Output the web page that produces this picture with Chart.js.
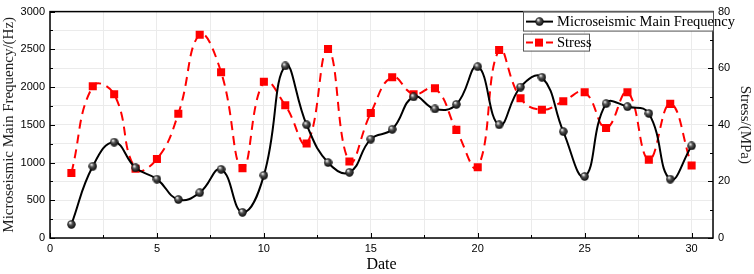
<!DOCTYPE html>
<html>
<head>
<meta charset="utf-8">
<script src="https://cdn.jsdelivr.net/npm/chart.js@4.4.0/dist/chart.umd.min.js"></script>
<style>
  html, body { margin: 0; padding: 0; background: #fff; }
  #wrap { width: 754px; height: 274px; }
</style>
</head>
<body>
<div id="wrap"><canvas id="myChart"></canvas></div>
<script>
// data
var days = [1,2,3,4,5,6,7,8,9,10,11,12,13,14,15,16,17,18,19,20,21,22,23,24,25,26,27,28,29,30]
var frequency = [180,950,1270,930,780,510,600,910,340,830,2280,1500,1000,870,1310,1440,1870,1710,1770,2270,1500,2000,2130,1410,815,1780,1740,1650,780,1220]
var stress = [23,53.6,50.8,24.5,27.9,43.9,71.8,58.6,24.7,55.2,46.9,33.4,66.8,27,44.2,56.8,50.8,52.9,38.2,25,66.4,49.4,45.3,48.3,51.5,38.9,51.5,27.7,47.4,25.6]
var xTicks = [0,5,10,15,20,25,30]
var leftTicks = [0,500,1000,1500,2000,2500,3000]
var rightTicks = [0,20,40,60,80]

var serif = "'Liberation Serif', 'Times New Roman', serif"
var sans = "'Liberation Sans', Arial, sans-serif"

// shaded ball marker
function makeBall(d) {
    var c = document.createElement('canvas')
    c.width = d; c.height = d
    var g = c.getContext('2d')
    var r = d / 2
    var grad = g.createRadialGradient(r * 0.7, r * 0.6, 0.5, r, r, r)
    grad.addColorStop(0, '#e8e8e8')
    grad.addColorStop(0.35, '#555')
    grad.addColorStop(1, '#000')
    g.fillStyle = grad
    g.beginPath(); g.arc(r, r, r - 0.3, 0, Math.PI * 2); g.fill()
    return c
}
var ball = makeBall(9)

function pts(vals) {
    return vals.map(function (v, i) { return { x: days[i], y: v } })
}

// inward ticks + frame
var frame = {
    id: 'frame',
    afterDatasetsDraw: function (chart) {
        var ctx = chart.ctx, a = chart.chartArea
        var sx = chart.scales.x, sy = chart.scales.y, sy2 = chart.scales.y2
        ctx.save()
        ctx.strokeStyle = '#000'
        ctx.lineWidth = 1
        ctx.beginPath()
        for (var v = 0; v <= 31; v += 2.5) {
            var px = Math.round(sx.getPixelForValue(v)) + 0.5
            var len = v % 5 === 0 ? 5 : 3
            ctx.moveTo(px, a.bottom); ctx.lineTo(px, a.bottom - len)
        }
        for (var v = 0; v <= 3000; v += 250) {
            var py = Math.round(sy.getPixelForValue(v)) + 0.5
            var len = v % 500 === 0 ? 5 : 3
            ctx.moveTo(a.left, py); ctx.lineTo(a.left + len, py)
        }
        for (var v = 0; v <= 80; v += 10) {
            var py = Math.round(sy2.getPixelForValue(v)) + 0.5
            var len = v % 20 === 0 ? 5 : 3
            ctx.moveTo(a.right, py); ctx.lineTo(a.right - len, py)
        }
        ctx.stroke()
        ctx.lineWidth = 1.5
        ctx.strokeRect(a.left, a.top, a.right - a.left, a.bottom - a.top)
        ctx.restore()
    },
    afterDraw: function (chart) {
        // legend boxes, top right inside the plot
        var ctx = chart.ctx, a = chart.chartArea
        ctx.save()
        ctx.font = '14.5px ' + serif
        ctx.textBaseline = 'middle'
        var x0 = a.right - 190
        // entry 1
        ctx.fillStyle = '#fff'
        ctx.fillRect(x0, a.top, 190, 19)
        ctx.strokeStyle = '#555'
        ctx.lineWidth = 1
        ctx.strokeRect(x0 + 0.5, a.top + 0.5, 190, 19)
        ctx.strokeStyle = '#000'
        ctx.lineWidth = 2
        ctx.beginPath(); ctx.moveTo(x0 + 3, a.top + 10); ctx.lineTo(x0 + 30, a.top + 10); ctx.stroke()
        ctx.drawImage(ball, x0 + 12, a.top + 5.5)
        ctx.fillStyle = '#000'
        ctx.fillText(chart.data.datasets[0].label, x0 + 34, a.top + 10.5)
        // entry 2
        var y1 = a.top + 22
        ctx.fillStyle = '#fff'
        ctx.fillRect(x0, y1, 66, 17)
        ctx.strokeStyle = '#555'
        ctx.lineWidth = 1
        ctx.strokeRect(x0 + 0.5, y1 + 0.5, 66, 17)
        ctx.strokeStyle = '#f00'
        ctx.lineWidth = 2
        ctx.beginPath(); ctx.moveTo(x0 + 3, y1 + 9); ctx.lineTo(x0 + 10, y1 + 9)
        ctx.moveTo(x0 + 23, y1 + 9); ctx.lineTo(x0 + 30, y1 + 9); ctx.stroke()
        ctx.fillStyle = '#f00'
        ctx.fillRect(x0 + 12, y1 + 5, 8, 8)
        ctx.fillStyle = '#000'
        ctx.fillText(chart.data.datasets[1].label, x0 + 34, y1 + 9.5)
        ctx.restore()
    }
}

var chartField = document.querySelector('#myChart').getContext('2d')

var myChart = new Chart(chartField, {
    type: 'line',
    data: {
        datasets: [{
            label: 'Microseismic Main Frequency',
            data: pts(frequency),
            yAxisID: 'y',
            borderColor: '#000',
            borderWidth: 2,
            tension: 0.45,
            pointStyle: ball,
            pointRadius: 4.5,
            order: 1
        }, {
            label: 'Stress',
            data: pts(stress),
            yAxisID: 'y2',
            borderColor: '#ff0000',
            backgroundColor: '#ff0000',
            borderWidth: 2,
            borderDash: [9, 6],
            tension: 0.45,
            pointStyle: 'rect',
            pointRadius: 5.7,
            pointBorderWidth: 0,
            order: 2
        }]
    },
    options: {
        responsive: true,
        maintainAspectRatio: false,
        animation: false,
        layout: { padding: { top: 5, right: 0, left: 0, bottom: 0 } },
        plugins: { legend: { display: false }, tooltip: { enabled: false } },
        scales: {
            x: {
                type: 'linear',
                min: 0, max: 31,
                afterFit: function (s) { s.height = 36 },
                border: { display: false },
                grid: { color: '#ebebeb', drawTicks: false },
                ticks: {
                    stepSize: 2.5,
                    autoSkip: false,
                    maxRotation: 0,
                    padding: 4,
                    color: '#000',
                    font: { family: sans, size: 11 },
                    callback: function (v) { return xTicks.indexOf(v) >= 0 ? String(v) : '' }
                },
                title: { display: true, text: 'Date', color: '#000', font: { family: serif, size: 16 }, padding: { top: 0, bottom: 0 } }
            },
            y: {
                position: 'left',
                min: 0, max: 3000,
                afterFit: function (s) { s.width = 50 },
                border: { display: false },
                grid: { color: '#ebebeb', drawTicks: false },
                ticks: {
                    stepSize: 250,
                    autoSkip: false,
                    padding: 5,
                    color: '#000',
                    font: { family: sans, size: 11 },
                    callback: function (v) { return leftTicks.indexOf(v) >= 0 ? String(v) : '' }
                },
                title: { display: true, text: 'Microseismic Main Frequency/(Hz)', color: '#222', font: { family: serif, size: 15 }, padding: { top: 0, bottom: 0 } }
            },
            y2: {
                position: 'right',
                min: 0, max: 80,
                afterFit: function (s) { s.width = 41 },
                border: { display: false },
                grid: { display: false, drawTicks: false },
                ticks: {
                    stepSize: 10,
                    autoSkip: false,
                    padding: 5,
                    color: '#000',
                    font: { family: sans, size: 11 },
                    callback: function (v) { return rightTicks.indexOf(v) >= 0 ? String(v) : '' }
                },
                title: { display: true, text: 'Stress/(MPa)', color: '#222', font: { family: serif, size: 15 }, padding: { top: 0, bottom: 0 } }
            }
        }
    },
    plugins: [frame]
})
</script>
</body>
</html>
